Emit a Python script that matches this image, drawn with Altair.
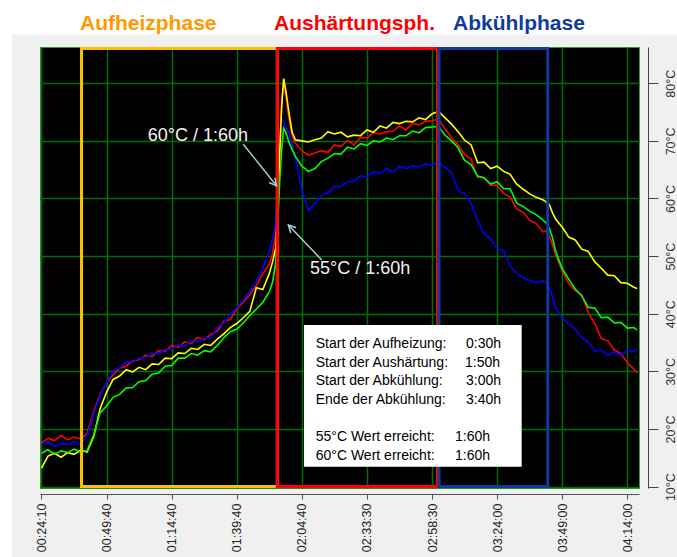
import math
import altair as alt
import pandas as pd

# ---------------- data ----------------
# x position in "tick units" (0 = first tick label, 9 = last tick label)
T_GRID = [0.0, 0.1, 0.2, 0.3, 0.4, 0.5, 0.6, 0.7, 0.8, 0.9,
          1.0, 1.1, 1.2, 1.3, 1.4, 1.5, 1.6, 1.7, 1.8, 1.9,
          2.0, 2.1, 2.2, 2.3, 2.4, 2.5, 2.6, 2.7, 2.8, 2.9,
          3.0, 3.1, 3.2, 3.3, 3.4, 3.5, 3.55, 3.6, 3.63, 3.66,
          3.69, 3.72, 3.75, 3.8, 3.85, 3.9, 4.0, 4.1, 4.2, 4.3,
          4.4, 4.5, 4.6, 4.7, 4.8, 4.9, 5.0, 5.1, 5.2, 5.3,
          5.4, 5.5, 5.6, 5.7, 5.8, 5.9, 6.0, 6.1, 6.2, 6.3,
          6.4, 6.5, 6.6, 6.7, 6.8, 6.9, 7.0, 7.1, 7.2, 7.3,
          7.4, 7.5, 7.6, 7.7, 7.75, 7.8, 7.85, 7.9, 8.0, 8.1,
          8.2, 8.3, 8.4, 8.5, 8.6, 8.7, 8.8, 8.9, 9.0, 9.1, 9.15]

RED = [17.6, 18.4, 18.0, 18.9, 18.1, 18.6, 18.3, 19.2, 23.0, 26.0,
       28.0, 29.4, 30.6, 30.9, 31.8, 32.0, 32.8, 32.6, 33.6, 33.5,
       34.5, 34.2, 35.1, 34.8, 35.9, 35.5, 36.4, 37.0, 38.7, 39.0,
       40.8, 42.0, 43.3, 44.9, 47.0, 48.6, 50.5, 54.0, 60.0, 70.0,
       77.0, 79.8, 78.0, 74.0, 70.8, 69.6, 68.3, 67.5, 67.9, 68.3,
       68.0, 69.3, 69.0, 70.1, 69.3, 70.6, 70.5, 71.4, 71.2, 71.6,
       71.7, 72.6, 71.9, 73.0, 72.8, 73.4, 73.5, 73.8, 72.0, 70.6,
       69.3, 67.6, 66.8, 63.7, 63.6, 62.3, 62.3, 60.9, 60.2, 58.2,
       57.6, 56.2, 55.7, 54.2, 54.4, 53.5, 52.0, 50.2, 47.4, 45.3,
       44.0, 43.3, 40.2, 38.3, 35.7, 35.3, 33.7, 33.1, 31.5, 30.4, 29.7]

BLUE = [17.2, 17.7, 17.0, 17.5, 17.3, 17.8, 17.4, 18.8, 22.5, 25.8,
        28.0, 30.1, 30.6, 31.7, 31.6, 32.3, 32.4, 33.1, 33.1, 33.8,
        33.8, 34.6, 34.4, 35.3, 35.1, 35.8, 35.8, 37.6, 38.4, 39.9,
        41.0, 42.4, 43.8, 45.6, 48.0, 50.8, 53.0, 56.0, 62.0, 69.0,
        73.8, 73.4, 72.5, 71.6, 69.2, 67.0, 61.5, 57.9, 59.2, 60.5,
        61.0, 62.1, 62.0, 62.9, 63.0, 63.9, 63.8, 64.6, 64.3, 65.2,
        64.6, 65.6, 65.2, 65.7, 65.5, 66.0, 65.8, 66.3, 65.4, 64.5,
        61.4, 60.8, 59.2, 56.1, 53.9, 52.9, 51.3, 50.9, 48.3, 47.0,
        46.2, 45.8, 45.4, 45.7, 45.5, 44.6, 43.0, 41.0, 39.3, 38.2,
        37.4, 35.8, 35.1, 33.5, 33.7, 32.8, 33.4, 32.8, 33.7, 33.4, 33.8]

GREEN = [15.8, 16.4, 15.6, 16.2, 15.9, 16.5, 16.0, 16.2, 18.9, 22.8,
         24.0, 25.5, 26.0, 27.1, 27.2, 28.2, 28.4, 29.5, 29.7, 30.9,
         31.0, 32.3, 32.3, 33.1, 32.8, 33.6, 33.4, 34.5, 35.8, 36.9,
         37.3, 38.4, 39.7, 40.8, 42.0, 43.8, 45.5, 49.0, 56.0, 63.0,
         68.5, 72.2, 71.6, 69.8, 68.5, 67.3, 65.6, 64.7, 65.2, 66.4,
         67.0, 67.8, 67.7, 68.9, 68.6, 69.5, 69.2, 70.0, 69.8, 70.5,
         70.2, 70.9, 70.9, 71.7, 71.4, 72.3, 72.4, 72.5, 71.0, 70.0,
         68.8, 66.6, 65.9, 63.9, 63.6, 62.5, 62.9, 61.7, 61.7, 59.2,
         58.6, 57.8, 57.2, 56.3, 55.8, 54.8, 53.2, 50.8, 47.8, 46.0,
         44.3, 43.1, 41.1, 41.0, 39.3, 39.4, 38.4, 38.5, 37.5, 37.6, 37.2]

YELLOW = [13.2, 15.3, 15.8, 15.1, 15.9, 15.6, 16.3, 16.0, 18.6, 23.5,
          26.4, 28.6, 29.2, 30.3, 29.9, 30.7, 30.3, 31.3, 31.2, 32.3,
          32.2, 33.2, 33.1, 34.0, 33.8, 34.7, 34.5, 35.6, 36.5, 37.6,
          38.3, 39.3, 40.4, 44.5, 44.2, 47.0, 49.0, 51.5, 58.0, 68.0,
          76.0, 80.8, 79.0, 75.0, 71.5, 70.2, 70.0, 69.8, 70.2, 70.5,
          71.6, 71.2, 71.5, 70.7, 71.0, 70.9, 71.9, 71.5, 72.6, 72.2,
          73.2, 73.0, 73.4, 73.3, 74.0, 73.7, 74.7, 75.1, 74.0, 72.9,
          71.6, 70.1, 69.3, 66.2, 66.3, 65.2, 65.6, 64.7, 64.2, 62.5,
          61.6, 60.8, 60.2, 59.8, 59.4, 59.0, 57.5, 56.4, 55.0, 53.3,
          52.8, 51.2, 50.8, 49.0, 47.9, 46.7, 46.6, 45.4, 45.3, 44.6, 44.4]

SERIES_NAMES = ["red", "blue", "yellow", "green"]
SERIES_COLORS = {"red": "#FF0000", "blue": "#0000FF", "yellow": "#FFFF00", "green": "#00FF00"}
SERIES_VALUES = {"red": RED, "blue": BLUE, "yellow": YELLOW, "green": GREEN}

TICK_POS = [0, 1, 2, 3, 4, 5, 6, 7, 8, 9]
TICK_LABELS = ["00:24:10", "00:49:40", "01:14:40", "01:39:40", "02:04:40",
               "02:33:30", "02:58:30", "03:24:00", "03:49:00", "04:14:00"]
Y_TICKS = [10, 20, 30, 40, 50, 60, 70, 80]

PHASE_NAMES = ["Aufheizphase", "Aushärtungsph.", "Abkühlphase"]
PHASE_START = [0.615, 3.623, 6.107]
PHASE_END = [3.623, 6.084, 7.777]
PHASE_COLORS = ["#FFC000", "#FF0000", "#0D3B9E"]
TITLE_X = [0.591, 3.572, 6.322]
TITLE_COLORS = ["#FF9900", "#FF0000", "#0D3B9E"]

INFO_LABELS = ["Start der Aufheizung:", "Start der Aushärtung:", "Start der Abkühlung:",
               "Ende der Abkühlung:", "55°C Wert erreicht:", "60°C Wert erreicht:"]
INFO_VALUES = ["0:30h", "1:50h", "3:00h", "3:40h", "1:60h", "1:60h"]
INFO_Y = [33.97, 30.76, 27.55, 24.34, 17.83, 14.62]
INFO_LABEL_X = 4.213
INFO_VALUE_X = [6.522, 6.507, 6.522, 6.522, 6.353, 6.353]
INFO_BOX = {"x": 4.033, "x2": 7.377, "y": 38.05, "y2": 13.46}

NOTE_TEXT = ["60°C / 1:60h", "55°C / 1:60h"]
NOTE_X = [1.632, 4.125]
NOTE_Y = [70.03, 46.90]
ARROW_X1 = [3.100, 4.305]
ARROW_Y1 = [69.41, 49.33]
ARROW_X2 = [3.613, 3.792]
ARROW_Y2 = [62.17, 55.40]

# ---------------- layout ----------------
W, H = 599, 441
X_DOM = [-0.023, 9.179]
Y_DOM = [9.76, 86.29]
FONT = "Liberation Sans"

xs = alt.Scale(domain=X_DOM, nice=False, zero=False)
ys = alt.Scale(domain=Y_DOM, nice=False, zero=False)
label_js = "[" + ",".join("'%s'" % s for s in TICK_LABELS) + "][datum.value]"

X_AX = alt.Axis(values=TICK_POS, labelExpr=label_js, labelAngle=270, labelAlign="right",
                labelBaseline="middle", labelPadding=4, tickSize=5, offset=6,
                domainColor="#555555", tickColor="#555555", labelColor="#222222",
                labelFont=FONT, labelFontSize=12.5, labelOverlap=False, labelFlush=False,
                grid=True, gridColor="#007000", gridWidth=1.5, title=None)
Y_AX = alt.Axis(orient="right", values=Y_TICKS, labelExpr="datum.value + '°C'",
                labelAngle=270, labelAlign="center", labelBaseline="top", labelPadding=6,
                tickSize=10, offset=9, domainColor="#444444", tickColor="#444444",
                labelColor="#333333", labelFont=FONT, labelFontSize=12.5,
                labelOverlap=False, labelFlush=False,
                grid=True, gridColor="#007000", gridWidth=1.5, title=None)


def X(field):
    return alt.X(field, type="quantitative", scale=xs, axis=X_AX)


def Y(field):
    return alt.Y(field, type="quantitative", scale=ys, axis=Y_AX)


one = pd.DataFrame({"a": [0]})

# white strips outside the grey panel
white_top = alt.Chart(one).mark_rect(color="white").encode(
    x=alt.value(-40), x2=alt.value(637), y=alt.value(-47), y2=alt.value(-12.5))
white_left = alt.Chart(one).mark_rect(color="white").encode(
    x=alt.value(-40), x2=alt.value(-28), y=alt.value(-47), y2=alt.value(520))

layers = [white_top, white_left]

for name in SERIES_NAMES:
    df = pd.DataFrame({"t": T_GRID, "temp": SERIES_VALUES[name]})
    layers.append(
        alt.Chart(df).mark_line(color=SERIES_COLORS[name], strokeWidth=1.6, clip=True)
        .encode(x=X("t"), y=Y("temp"))
    )

phase_df = pd.DataFrame({"x": PHASE_START, "x2": PHASE_END, "name": PHASE_NAMES,
                         "y": [10.02] * 3, "y2": [86.05] * 3})
phases = alt.Chart(phase_df).mark_rect(fill=None, filled=False, strokeWidth=3).encode(
    x=X("x"), x2="x2", y=Y("y"), y2="y2",
    stroke=alt.Stroke("name:N", scale=alt.Scale(domain=PHASE_NAMES, range=PHASE_COLORS),
                      legend=None),
    order=alt.Order("x:Q"),
)
layers.append(phases)

box_df = pd.DataFrame([INFO_BOX])
layers.append(alt.Chart(box_df).mark_rect(color="white").encode(
    x=X("x"), x2="x2", y=Y("y"), y2="y2"))

info_df = pd.DataFrame({"label": INFO_LABELS, "value": INFO_VALUES, "y": INFO_Y,
                        "lx": [INFO_LABEL_X] * len(INFO_LABELS), "vx": INFO_VALUE_X})
layers.append(alt.Chart(info_df).mark_text(align="left", baseline="alphabetic", font=FONT,
                                           fontSize=14, color="black").encode(
    x=X("lx"), y=Y("y"), text="label"))
layers.append(alt.Chart(info_df).mark_text(align="left", baseline="alphabetic", font=FONT,
                                           fontSize=14, color="black").encode(
    x=X("vx"), y=Y("y"), text="value"))

note_df = pd.DataFrame({"text": NOTE_TEXT, "x": NOTE_X, "y": NOTE_Y})
layers.append(alt.Chart(note_df).mark_text(align="left", baseline="alphabetic", font=FONT,
                                           fontSize=18, color="#F2F2F2").encode(
    x=X("x"), y=Y("y"), text="text"))

# arrows
px_per_t = W / (X_DOM[1] - X_DOM[0])
px_per_deg = H / (Y_DOM[1] - Y_DOM[0])
angles = []
for x1, y1, x2, y2 in zip(ARROW_X1, ARROW_Y1, ARROW_X2, ARROW_Y2):
    dx = (x2 - x1) * px_per_t
    dy = -(y2 - y1) * px_per_deg
    angles.append(math.degrees(math.atan2(dx, -dy)) % 360)
arrow_df = pd.DataFrame({"x": ARROW_X1, "y": ARROW_Y1, "x2": ARROW_X2, "y2": ARROW_Y2,
                         "angle": angles})
ARROW_COLOR = "#A8CCD0"
layers.append(alt.Chart(arrow_df).mark_rule(color=ARROW_COLOR, strokeWidth=1.5).encode(
    x=X("x"), y=Y("y"), x2="x2", y2="y2"))
layers.append(alt.Chart(arrow_df).mark_point(
    shape="M-0.5,1L0,0L0.5,1", filled=False, color=ARROW_COLOR, strokeWidth=1.5,
    size=220, opacity=1).encode(
    x=X("x2"), y=Y("y2"), angle=alt.Angle("angle:Q", scale=None)))

title_df = pd.DataFrame({"text": PHASE_NAMES, "x": TITLE_X})
layers.append(alt.Chart(title_df).mark_text(align="left", baseline="alphabetic", font=FONT,
                                            fontSize=21, fontWeight="bold").encode(
    x=X("x"), y=alt.value(-17), text="text",
    color=alt.Color("text:N", scale=alt.Scale(domain=PHASE_NAMES, range=TITLE_COLORS),
                    legend=None)))

chart = alt.layer(*layers).properties(
    width=W, height=H,
    autosize=alt.AutoSizeParams(type="none"),
    padding={"left": 40, "top": 47, "right": 38, "bottom": 69},
    background="#F0F0F0",
).configure_view(fill="black", stroke="#339933", strokeWidth=1).resolve_scale(
    stroke="independent", color="independent")

chart.save("out.html", embed_options={"renderer": "svg", "actions": False})
